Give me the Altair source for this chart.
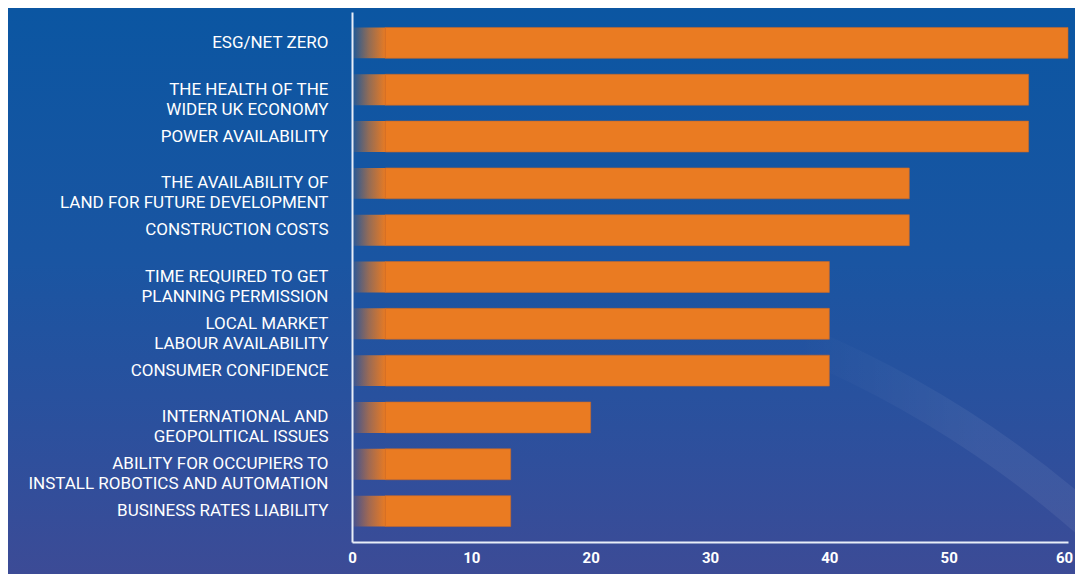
import altair as alt
import pandas as pd

categories = [
    "ESG/NET ZERO",
    "THE HEALTH OF THE|WIDER UK ECONOMY",
    "POWER AVAILABILITY",
    "THE AVAILABILITY OF|LAND FOR FUTURE DEVELOPMENT",
    "CONSTRUCTION COSTS",
    "TIME REQUIRED TO GET|PLANNING PERMISSION",
    "LOCAL MARKET|LABOUR AVAILABILITY",
    "CONSUMER CONFIDENCE",
    "INTERNATIONAL AND|GEOPOLITICAL ISSUES",
    "ABILITY FOR OCCUPIERS TO|INSTALL ROBOTICS AND AUTOMATION",
    "BUSINESS RATES LIABILITY",
]
values = [60.0, 56.7, 56.7, 46.7, 46.7, 40.0, 40.0, 40.0, 20.0, 13.3, 13.3]
x_ticks = [0, 10, 20, 30, 40, 50, 60]
fade_end = 2.8

df = pd.DataFrame({"category": categories, "value": values})

W, H = 716, 530
PAD = {"left": 344, "top": 4, "right": 7, "bottom": 32}

bg = alt.Chart(df).mark_rect(
    clip=False,
    color=alt.Gradient(
        gradient="linear", x1=0, y1=0, x2=0, y2=1,
        stops=[
            alt.GradientStop(color="#0b56a2", offset=0),
            alt.GradientStop(color="#1a55a2", offset=0.45),
            alt.GradientStop(color="#2f4f9c", offset=0.8),
            alt.GradientStop(color="#3c4b96", offset=1),
        ],
    ),
).encode(
    x=alt.value(-PAD["left"]), x2=alt.value(W + PAD["right"]),
    y=alt.value(-PAD["top"]), y2=alt.value(H + PAD["bottom"]),
)

# faint decorative swoosh in the lower right of the background
swoosh = alt.Chart(df.head(1)).mark_arc(
    clip=False, radius=1055, radius2=1022, theta=0.4, theta2=0.85,
    opacity=0.06,
    color=alt.Gradient(
        gradient="linear", x1=0, y1=0, x2=1, y2=0,
        stops=[
            alt.GradientStop(color="rgba(255,255,255,0)", offset=0),
            alt.GradientStop(color="rgba(255,255,255,1)", offset=0.45),
            alt.GradientStop(color="rgba(255,255,255,1)", offset=1),
        ],
    ),
).encode(x=alt.value(48), y=alt.value(1288))

yscale = alt.Scale(paddingInner=0.34, paddingOuter=0.33)
ysort = categories

base = alt.Chart(df)

bars = base.transform_calculate(start=str(fade_end)).mark_bar(
    color="#EA7B22", stroke="#c8682a", strokeWidth=0.6
).encode(
    y=alt.Y("category:N", sort=ysort, scale=yscale,
            axis=alt.Axis(
                title=None, domain=True, domainColor="#e8eef8", domainWidth=2,
                ticks=False, labelPadding=24, zindex=1,
                labelExpr="split(datum.label, '|')",
                labelColor="white", labelFont="Roboto", labelFontSize=17,
                labelLineHeight=20, labelLimit=400,
            )),
    x=alt.X("start:Q"),
    x2=alt.X2("value:Q"),
)

fade = base.transform_calculate(start="0", fe=str(fade_end + 0.05)).mark_bar(
    color=alt.Gradient(
        gradient="linear", x1=0, y1=0, x2=1, y2=0,
        stops=[
            alt.GradientStop(color="rgba(234,123,34,0.05)", offset=0),
            alt.GradientStop(color="rgba(234,123,34,0.6)", offset=0.5),
            alt.GradientStop(color="rgba(234,123,34,1)", offset=1),
        ],
    ),
).encode(
    y=alt.Y("category:N", sort=ysort, scale=yscale),
    x=alt.X("start:Q",
            scale=alt.Scale(domain=[0, 60], nice=False),
            axis=alt.Axis(
                title=None, values=x_ticks, format="d", grid=False,
                domain=True, domainColor="#e8eef8", domainWidth=2,
                ticks=False, labelPadding=8, zindex=1,
                labelColor="white", labelFont="Roboto", labelFontSize=15,
                labelFontWeight="bold",
                labelFlush=False,
                labelOffset=alt.ConditionalAxisNumber(
                    condition={"test": "datum.value == 60", "value": -4},
                    value=0,
                ),
            )),
    x2=alt.X2("fe:Q"),
)

chart = alt.layer(bg, swoosh, fade, bars).resolve_scale(y="shared").properties(
    width=W, height=H,
    autosize=alt.AutoSizeParams(type="none"),
    padding=PAD,
    background="#1a55a2",
).configure_view(stroke=None)

chart.save("out.html", embed_options={"renderer": "svg", "actions": False})
